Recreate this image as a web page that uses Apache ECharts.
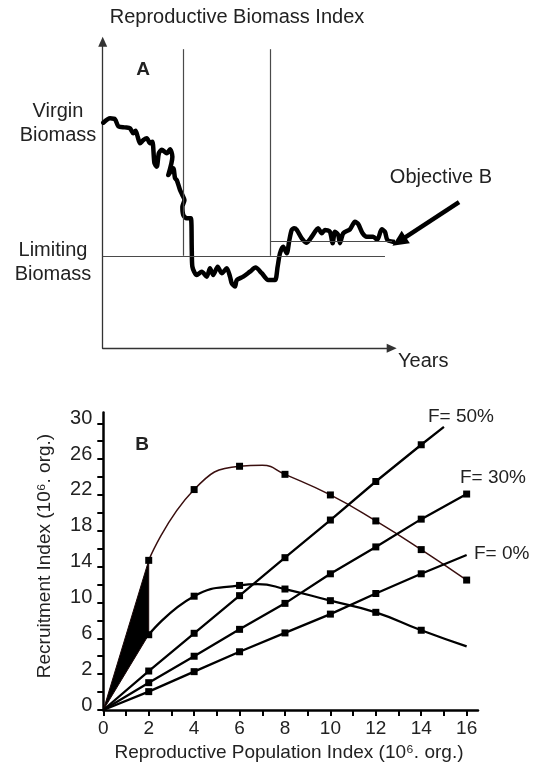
<!DOCTYPE html>
<html>
<head>
<meta charset="utf-8">
<script src="https://cdn.jsdelivr.net/npm/echarts@6/dist/echarts.min.js"></script>
<style>
html,body{margin:0;padding:0;background:#fff;}
#chart{width:535px;height:765px;}
</style>
</head>
<body>
<div id="chart"></div>
<script>
// ---------- Panel A : reproductive biomass over years ----------
const biomassYears = [0.2,2.5,4.2,5.3,7.6,9.3,10.4,11.2,11.9,12.7,13.8,15.0,16.1,16.9,17.6,18.4,19.1,20.1,21.8,22.9,23.7,22.3,24.0,24.6,25.2,26.3,27.1,27.8,27.1,27.4,28.6,30.0,30.3,30.5,32.0,33.7,35.4,36.5,37.6,39.1,40.5,42.2,43.3,43.9,45.0,45.6,47.8,50.1,52.0,54.1,56.3,58.6,59.5,60.3,61.4,62.6,63.5,64.3,65.1,66.0,67.7,69.4,71.1,73.3,74.5,75.6,77.3,78.2,79.0,80.1,80.7,81.8,84.1,85.8,86.9,88.4,89.8,92.0,93.4,94.9,96.0,96.8,98.8,102.2];
const biomassIndex = [72.4,73.8,73.5,71.3,70.9,70.6,69.0,69.8,67.9,65.8,66.8,67.4,65.8,66.3,59.4,58.3,62.6,63.7,62.6,63.9,61.5,55.6,57.8,54.6,54.0,50.8,49.2,47.6,45.4,42.8,41.7,41.7,31.5,26.2,23.5,24.6,23.0,25.7,23.5,26.2,24.1,25.7,23.0,20.9,19.8,21.9,23.0,24.6,25.9,24.1,21.9,21.9,26.2,30.5,32.6,30.5,34.8,38.0,38.5,38.0,35.3,33.9,35.8,38.5,36.9,38.0,37.4,33.7,37.4,36.4,33.7,36.9,38.2,40.6,39.9,36.9,35.8,35.8,34.8,38.2,37.4,34.8,34.2,33.9];
const limitingBiomass = 29.7;
const objectiveBiomass = 34.2;
const phaseYears = [27.4, 57.1];
const phaseTop = 96.0;
const limitingEnd = 96.0;
const objectiveEnd = 98.4;
const arrowFrom = [121.2, 46.9];
const arrowTo = [100.8, 34.3];

// ---------- Panel B : stock-recruitment ----------
// y values in evenly spaced axis units; printed tick labels below
const yTickPos = [0,4,8,12,16,20,24,28,32];
const yTickLabels = ['0','2','6','10','14','18','22','26','30'];
const xTickLabels = [0,2,4,6,8,10,12,14,16];
const highCurveX = [2,4,6,7,8,10,12,14,16];
const highCurveY = [16.7,24.6,27.2,27.3,26.3,24.0,21.1,17.9,14.5];
const lowCurveX = [2,4,6,6.8,8,10,12,14,16];
const lowCurveY = [8.4,12.7,13.9,14.05,13.5,12.2,10.9,8.9,7.1];
const f50X = [0,2,4,6,8,10,12,14,15];
const f50Y = [0,4.35,8.56,12.76,17.0,21.2,25.5,29.6,31.6];
const fLineX = [0,2,4,6,8,10,12,14,16];
const f30Y = [0,3.05,6.0,9.0,11.9,15.2,18.2,21.3,24.1];
const f0Y = [0,2.05,4.28,6.5,8.6,10.7,13.0,15.2,17.3];

const FONT = "'Liberation Sans', Arial, sans-serif";

function pts(xs, ys, markLast) {
  return xs.map((x, i) => {
    const isLast = i === xs.length - 1;
    const marked = x > 0 && Number.isInteger(x) && x % 2 === 0 && (markLast || !isLast);
    return { value: [x, ys[i]], symbol: marked ? 'rect' : 'none' };
  });
}

const chart = echarts.init(document.getElementById('chart'), null, {renderer: 'canvas'});

const thinGrey = {color: '#4a4a4a', width: 1.2, type: 'solid'};
const hiddenAxis = {axisLine: {show: false}, axisTick: {show: false}, axisLabel: {show: false}, splitLine: {show: false}};

const option = {
  animation: false,
  backgroundColor: '#fff',
  grid: [
    {left: 102.7, top: 41.7, width: 289, height: 306.6},
    {left: 103.3, top: 412.5, width: 374.7, height: 297.5},
    // same scale as grid 0, wider, for annotations beyond the Years axis
    {left: 102.7, top: 41.7, width: 359.3, height: 306.6}
  ],
  xAxis: [
    {gridIndex: 0, type: 'value', min: 0, max: 98.3,
      axisLine: {show: true, lineStyle: {color: '#333', width: 1.3}, symbol: ['none', 'triangle'], symbolSize: [9, 10]},
      axisTick: {show: false}, axisLabel: {show: false}, splitLine: {show: false}},
    {gridIndex: 1, type: 'value', min: 0, max: 16.5,
      axisLine: {show: true, onZero: false, lineStyle: {color: '#000', width: 2.5}},
      axisTick: {show: true, inside: false, length: 6, lineStyle: {color: '#000', width: 2},
        customValues: [0,1,2,3,4,5,6,7,8,9,10,11,12,13,14,15,16]},
      axisLabel: {show: true, customValues: xTickLabels, margin: 9, color: '#222', fontSize: 19, fontFamily: FONT},
      splitLine: {show: false}},
    Object.assign({gridIndex: 2, type: 'value', min: 0, max: 122.2}, hiddenAxis)
  ],
  yAxis: [
    {gridIndex: 0, type: 'value', min: 0, max: 98.4,
      axisLine: {show: true, lineStyle: {color: '#333', width: 1.3}, symbol: ['none', 'triangle'], symbolSize: [9, 10]},
      axisTick: {show: false}, axisLabel: {show: false}, splitLine: {show: false}},
    {gridIndex: 1, type: 'value', min: 0, max: 33.2,
      axisLine: {show: true, onZero: false, lineStyle: {color: '#000', width: 2.5}},
      axisTick: {show: true, inside: false, length: 6, lineStyle: {color: '#000', width: 2},
        customValues: [0,2,4,6,8,10,12,14,16,18,20,22,24,26,28,30,32]},
      axisLabel: {show: true, customValues: yTickPos, margin: 11, color: '#222', fontSize: 20, fontFamily: FONT,
        verticalAlign: 'bottom', lineHeight: 10,
        formatter: v => yTickLabels[yTickPos.indexOf(v)]},
      splitLine: {show: false}},
    Object.assign({gridIndex: 2, type: 'value', min: 0, max: 98.4}, hiddenAxis)
  ],
  series: [
    {
      type: 'line', xAxisIndex: 0, yAxisIndex: 0, clip: false,
      data: biomassYears.map((x, i) => [x, biomassIndex[i]]),
      symbol: 'none', smooth: 0.25,
      lineStyle: {color: '#000', width: 4.5, join: 'round', cap: 'round'},
      silent: true, z: 4
    },
    {
      type: 'line', xAxisIndex: 2, yAxisIndex: 2, data: [], silent: true, z: 3,
      markLine: {
        silent: true, symbol: ['none', 'none'], label: {show: false},
        lineStyle: thinGrey, animation: false,
        data: [
          [{coord: [phaseYears[0], phaseTop]}, {coord: [phaseYears[0], limitingBiomass]}],
          [{coord: [phaseYears[1], phaseTop]}, {coord: [phaseYears[1], limitingBiomass]}],
          [{coord: [0, limitingBiomass]}, {coord: [limitingEnd, limitingBiomass]}],
          [{coord: [phaseYears[1], objectiveBiomass]}, {coord: [objectiveEnd, objectiveBiomass]}],
          [{coord: arrowFrom, symbol: 'none', lineStyle: {color: '#000', width: 4.5, type: 'solid'}},
           {coord: arrowTo, symbol: 'triangle', symbolSize: [15, 16]}]
        ]
      }
    },
    {
      type: 'custom', xAxisIndex: 1, yAxisIndex: 1, silent: true,
      data: [[0, 0]],
      renderItem: function (params, api) {
        const p0 = api.coord([0, 0]);
        const p1 = api.coord([highCurveX[0], highCurveY[0]]);
        const p2 = api.coord([lowCurveX[0], lowCurveY[0]]);
        return {type: 'polygon', shape: {points: [p0, p1, p2]},
          style: {fill: '#000', stroke: '#1a0505', lineWidth: 1}};
      },
      z: 3
    },
    {
      type: 'line', xAxisIndex: 1, yAxisIndex: 1, silent: true, smooth: 0.5,
      data: pts(highCurveX, highCurveY, true),
      symbolSize: 7, itemStyle: {color: '#000'},
      lineStyle: {color: '#3a0f0f', width: 1.5}, z: 4
    },
    {
      type: 'line', xAxisIndex: 1, yAxisIndex: 1, silent: true, smooth: 0.5,
      data: pts(lowCurveX, lowCurveY, false),
      symbolSize: 7, itemStyle: {color: '#000'},
      lineStyle: {color: '#000', width: 2.3}, z: 4
    },
    {
      type: 'line', xAxisIndex: 1, yAxisIndex: 1, silent: true,
      data: pts(f50X, f50Y, false),
      symbolSize: 7, itemStyle: {color: '#000'},
      lineStyle: {color: '#000', width: 2.3}, z: 4
    },
    {
      type: 'line', xAxisIndex: 1, yAxisIndex: 1, silent: true,
      data: pts(fLineX, f30Y, true),
      symbolSize: 7, itemStyle: {color: '#000'},
      lineStyle: {color: '#000', width: 2.3}, z: 4
    },
    {
      type: 'line', xAxisIndex: 1, yAxisIndex: 1, silent: true,
      data: pts(fLineX, f0Y, false),
      symbolSize: 7, itemStyle: {color: '#000'},
      lineStyle: {color: '#000', width: 2.3}, z: 4
    }
  ],
  graphic: [
    {type: 'text', x: 237, y: 17, style: {text: 'Reproductive Biomass Index', font: '20px ' + FONT, fill: '#222', align: 'center', verticalAlign: 'middle'}},
    {type: 'text', x: 143, y: 70, style: {text: 'A', font: 'bold 19px ' + FONT, fill: '#222', align: 'center', verticalAlign: 'middle'}},
    {type: 'text', x: 58, y: 111, style: {text: 'Virgin', font: '20px ' + FONT, fill: '#222', align: 'center', verticalAlign: 'middle'}},
    {type: 'text', x: 58, y: 135, style: {text: 'Biomass', font: '20px ' + FONT, fill: '#222', align: 'center', verticalAlign: 'middle'}},
    {type: 'text', x: 53, y: 250, style: {text: 'Limiting', font: '20px ' + FONT, fill: '#222', align: 'center', verticalAlign: 'middle'}},
    {type: 'text', x: 53, y: 274, style: {text: 'Biomass', font: '20px ' + FONT, fill: '#222', align: 'center', verticalAlign: 'middle'}},
    {type: 'text', x: 441, y: 177, style: {text: 'Objective B', font: '20px ' + FONT, fill: '#222', align: 'center', verticalAlign: 'middle'}},
    {type: 'text', x: 398, y: 361, style: {text: 'Years', font: '20px ' + FONT, fill: '#222', align: 'left', verticalAlign: 'middle'}},
    {type: 'text', x: 142, y: 445, style: {text: 'B', font: 'bold 19px ' + FONT, fill: '#222', align: 'center', verticalAlign: 'middle'}},
    {type: 'text', x: 428, y: 417, style: {text: 'F= 50%', font: '19px ' + FONT, fill: '#222', align: 'left', verticalAlign: 'middle'}},
    {type: 'text', x: 460, y: 478, style: {text: 'F= 30%', font: '19px ' + FONT, fill: '#222', align: 'left', verticalAlign: 'middle'}},
    {type: 'text', x: 474, y: 554, style: {text: 'F= 0%', font: '19px ' + FONT, fill: '#222', align: 'left', verticalAlign: 'middle'}},
    {type: 'text', x: 45, y: 556, rotation: Math.PI / 2, style: {text: 'Recruitment Index (10⁶. org.)', font: '19px ' + FONT, fill: '#222', align: 'center', verticalAlign: 'middle'}},
    {type: 'text', x: 289, y: 753, style: {text: 'Reproductive Population Index (10⁶. org.)', font: '19px ' + FONT, fill: '#222', align: 'center', verticalAlign: 'middle'}}
  ]
};
chart.setOption(option);
</script>
</body>
</html>
